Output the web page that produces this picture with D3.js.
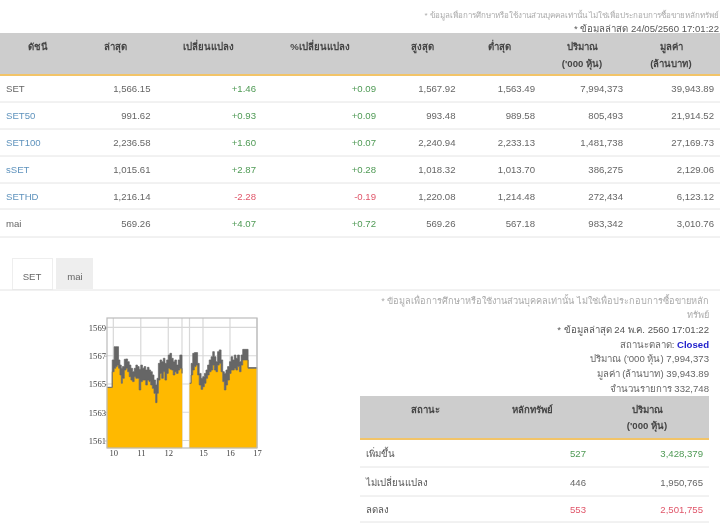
<!DOCTYPE html>
<html>
<head>
<meta charset="utf-8">
<script src="https://cdn.jsdelivr.net/npm/d3@7"></script>
<style>
  body { margin: 0; background: #fff; }
  svg { display: block; filter: blur(0.55px); font-family: "Liberation Sans", "Noto Sans", sans-serif; }
</style>
</head>
<body>
<div id="chart"></div>
<script>
// index table
const indexNames = ["SET", "SET50", "SET100", "sSET", "SETHD", "mai"];
const lastValues = ["1,566.15", "991.62", "2,236.58", "1,015.61", "1,216.14", "569.26"];
const changes = ["+1.46", "+0.93", "+1.60", "+2.87", "-2.28", "+4.07"];
const pctChanges = ["+0.09", "+0.09", "+0.07", "+0.28", "-0.19", "+0.72"];
const highs = ["1,567.92", "993.48", "2,240.94", "1,018.32", "1,220.08", "569.26"];
const lows = ["1,563.49", "989.58", "2,233.13", "1,013.70", "1,214.48", "567.18"];
const volumes = ["7,994,373", "805,493", "1,481,738", "386,275", "272,434", "983,342"];
const turnovers = ["39,943.89", "21,914.52", "27,169.73", "2,129.06", "6,123.12", "3,010.76"];
const indexHeaders = ["ดัชนี", "ล่าสุด", "เปลี่ยนแปลง", "%เปลี่ยนแปลง", "สูงสุด", "ต่ำสุด", ["ปริมาณ", "('000 หุ้น)"], ["มูลค่า", "(ล้านบาท)"]];

// market breadth table
const breadthHeaders = ["สถานะ", "หลักทรัพย์", ["ปริมาณ", "('000 หุ้น)"]];
const breadthNames = ["เพิ่มขึ้น", "ไม่เปลี่ยนแปลง", "ลดลง"];
const breadthCounts = ["527", "446", "553"];
const breadthVolumes = ["3,428,379", "1,950,765", "2,501,755"];

// intraday index, hours of the day, morning and afternoon sessions
const amHours = [9.77, 9.93, 9.96, 10.03, 10.09, 10.14, 10.19, 10.24, 10.29, 10.33, 10.40, 10.46, 10.52, 10.58, 10.64, 10.70, 10.76, 10.82, 10.88, 10.94, 11.00, 11.06, 11.12, 11.18, 11.24, 11.30, 11.36, 11.42, 11.48, 11.54, 11.59, 11.64, 11.70, 11.76, 11.82, 11.88, 11.94, 12.00, 12.06, 12.12, 12.18, 12.24, 12.30, 12.36, 12.42, 12.50];
const amHigh = [1564.76, 1564.76, 1566.70, 1567.64, 1567.64, 1567.64, 1566.70, 1566.34, 1566.11, 1566.23, 1566.75, 1566.77, 1566.58, 1566.34, 1566.11, 1565.87, 1566.11, 1566.34, 1566.23, 1566.04, 1566.34, 1566.11, 1566.23, 1565.99, 1566.18, 1565.99, 1565.87, 1565.64, 1565.28, 1564.93, 1565.40, 1566.46, 1566.70, 1566.58, 1566.82, 1566.46, 1566.70, 1567.05, 1567.17, 1566.82, 1566.58, 1566.70, 1566.34, 1566.70, 1567.05, 1567.05];
const amLow = [1564.76, 1564.76, 1565.87, 1566.11, 1566.23, 1566.34, 1566.11, 1565.64, 1565.05, 1565.40, 1565.99, 1566.11, 1565.87, 1565.52, 1565.28, 1565.17, 1565.52, 1565.40, 1565.40, 1564.58, 1565.17, 1565.28, 1565.28, 1564.93, 1565.28, 1565.17, 1564.93, 1564.69, 1564.34, 1563.68, 1564.34, 1565.28, 1565.75, 1565.40, 1565.87, 1565.28, 1565.75, 1566.11, 1566.04, 1565.99, 1565.64, 1565.87, 1565.75, 1565.99, 1566.11, 1565.75];
const pmHours = [14.51, 14.56, 14.62, 14.68, 14.74, 14.80, 14.86, 14.93, 14.99, 15.05, 15.11, 15.17, 15.23, 15.30, 15.36, 15.42, 15.48, 15.54, 15.60, 15.67, 15.73, 15.79, 15.85, 15.91, 15.98, 16.04, 16.10, 16.16, 16.22, 16.28, 16.35, 16.41, 16.47, 16.63, 16.67, 17.00];
const pmHigh = [1565.05, 1566.46, 1567.17, 1567.22, 1567.22, 1566.46, 1565.75, 1565.40, 1565.52, 1565.75, 1565.99, 1566.34, 1566.70, 1566.93, 1567.29, 1566.93, 1566.58, 1567.29, 1567.41, 1566.70, 1565.87, 1565.75, 1565.99, 1566.23, 1566.58, 1566.93, 1566.70, 1567.05, 1566.82, 1567.05, 1566.58, 1567.05, 1567.45, 1567.45, 1566.16, 1566.16];
const pmLow = [1565.05, 1565.64, 1565.99, 1566.23, 1566.34, 1565.64, 1564.93, 1564.62, 1564.81, 1565.05, 1565.40, 1565.64, 1565.87, 1565.99, 1566.34, 1565.99, 1565.87, 1566.34, 1566.46, 1565.87, 1565.17, 1564.58, 1564.93, 1565.28, 1565.75, 1565.99, 1565.99, 1566.11, 1565.99, 1566.23, 1565.87, 1566.34, 1566.70, 1566.70, 1566.11, 1566.11];
const hourTicks = [10, 11, 12, 15, 16, 17];
const gapEdges = [12.5, 14.5];
const priceTicks = [1561, 1563, 1565, 1567, 1569];

const textColor = "#666";
const green = "#4f9a55";
const red = "#e0566a";
const linkBlue = "#5f93bd";

const svg = d3.select("#chart").append("svg").attr("width", 728).attr("height", 524);

function label(x, y, str, anchor, color, size, weight) {
  return svg.append("text").attr("x", x).attr("y", y)
    .attr("text-anchor", anchor || "start")
    .attr("fill", color || textColor)
    .attr("font-size", size || 9.6)
    .attr("font-weight", weight || "normal")
    .text(str);
}

function signColor(s) {
  return s[0] == "-" ? red : green;
}

function tableHeader(x0, x1, y0, y1, centers, headers, y1Line, y2Line) {
  svg.append("rect").attr("x", x0).attr("y", y0).attr("width", x1 - x0).attr("height", y1 - y0).attr("fill", "#cdcdcd");
  svg.append("rect").attr("x", x0).attr("y", y1).attr("width", x1 - x0).attr("height", 2).attr("fill", "#f2c468");
  headers.forEach((h, i) => {
    if (Array.isArray(h)) {
      label(centers[i], y1Line, h[0], "middle", "#444", 9.6, "bold");
      label(centers[i], y2Line, h[1], "middle", "#444", 9.6, "bold");
    } else {
      label(centers[i], y1Line, h, "middle", "#444", 9.6, "bold");
    }
  });
}

function rule(x0, x1, y) {
  svg.append("line").attr("x1", x0).attr("x2", x1).attr("y1", y).attr("y2", y).attr("stroke", "#e4e4e4");
}

// top notes
label(719, 18, "* ข้อมูลเพื่อการศึกษาหรือใช้งานส่วนบุคคลเท่านั้น ไม่ใช่เพื่อประกอบการซื้อขายหลักทรัพย์", "end", "#aaa", 8);
label(719, 32, "* ข้อมูลล่าสุด 24/05/2560 17:01:22", "end", "#555", 9.6);

// index table
tableHeader(0, 720, 33, 74, [38, 115, 208, 320, 422, 499, 582, 671], indexHeaders, 50, 67);
const rowText = [92, 119, 146, 173, 200, 227];
const rowRules = [102, 129, 156, 183, 209, 237];
const numberCols = [
  [lastValues, 150.5], [changes, 256], [pctChanges, 376], [highs, 455.5],
  [lows, 535], [volumes, 623], [turnovers, 714]
];
indexNames.forEach((name, i) => {
  const linked = name != "SET" && name != "mai";
  label(6, rowText[i], name, "start", linked ? linkBlue : textColor);
  numberCols.forEach((col, c) => {
    const color = c == 1 || c == 2 ? signColor(col[0][i]) : textColor;
    label(col[1], rowText[i], col[0][i], "end", color);
  });
  rule(0, 720, rowRules[i]);
});

// tabs
svg.append("rect").attr("x", 12.5).attr("y", 258.5).attr("width", 40).attr("height", 31).attr("fill", "#fff").attr("stroke", "#eee");
svg.append("rect").attr("x", 56).attr("y", 258).attr("width", 37).attr("height", 31).attr("fill", "#eee");
rule(0, 720, 290);
label(32, 280, "SET", "middle", textColor, 9.6);
label(75, 280, "mai", "middle", textColor, 9.6);

// intraday chart
const plot = { left: 107, right: 257, top: 318, bottom: 448 };
const x = d3.scaleLinear().domain([9.77, 12.5, 14.5, 17]).range([107, 182, 189.5, 257]);
const y = d3.scaleLinear().domain([1560.47, 1569.67]).range([plot.bottom, plot.top]);

const g = svg.append("g");
g.selectAll("line.h").data(priceTicks).join("line").attr("class", "h")
  .attr("x1", plot.left).attr("x2", plot.right).attr("y1", d => y(d)).attr("y2", d => y(d))
  .attr("stroke", "#d8d8d8").attr("stroke-width", 1.2);
g.selectAll("line.v").data(hourTicks.concat(gapEdges)).join("line").attr("class", "v")
  .attr("y1", plot.top).attr("y2", plot.bottom).attr("x1", d => x(d)).attr("x2", d => x(d))
  .attr("stroke", "#d8d8d8").attr("stroke-width", 1.2);

const goldArea = d3.area().curve(d3.curveStepAfter).x(d => x(d.hour)).y0(plot.bottom).y1(d => y(d.low));
const bandArea = d3.area().curve(d3.curveStepAfter).x(d => x(d.hour)).y0(d => y(d.low)).y1(d => y(d.high));
const sessions = [
  amHours.map((h, i) => ({ hour: h, high: amHigh[i], low: amLow[i] })),
  pmHours.map((h, i) => ({ hour: h, high: pmHigh[i], low: pmLow[i] }))
];
sessions.forEach(s => {
  g.append("path").attr("d", goldArea(s)).attr("fill", "#ffb900").attr("stroke", "#ffb900").attr("stroke-width", 0.4);
  g.append("path").attr("d", bandArea(s)).attr("fill", "#666").attr("stroke", "#666").attr("stroke-width", 0.7);
});
g.append("rect").attr("x", plot.left).attr("y", plot.top)
  .attr("width", plot.right - plot.left).attr("height", plot.bottom - plot.top)
  .attr("fill", "none").attr("stroke", "#bbb").attr("stroke-width", 1.2);

const yAxis = g.append("g").attr("transform", `translate(${plot.left},0)`)
  .call(d3.axisLeft(y).tickValues(priceTicks).tickFormat(d3.format("d")).tickSize(2).tickPadding(-1));
const xAxis = g.append("g").attr("transform", `translate(0,${plot.bottom})`)
  .call(d3.axisBottom(x).tickValues(hourTicks).tickFormat(d3.format("d")).tickSize(0).tickPadding(2));
[yAxis, xAxis].forEach(a => {
  a.select(".domain").remove();
  a.selectAll("line").attr("stroke", "#bbb");
  a.selectAll("text").attr("font-family", "Liberation Serif").attr("font-size", 8.6).attr("fill", "#444");
});

// right notes
label(709, 304, "* ข้อมูลเพื่อการศึกษาหรือใช้งานส่วนบุคคลเท่านั้น ไม่ใช่เพื่อประกอบการซื้อขายหลัก", "end", "#aaa", 9.2);
label(709, 318, "ทรัพย์", "end", "#aaa", 9.2);
label(709, 333, "* ข้อมูลล่าสุด 24 พ.ค. 2560 17:01:22", "end", "#555", 9.6);
const status = label(709, 348, "สถานะตลาด: ", "end", "#666", 9.6);
status.append("tspan").attr("fill", "#2222cc").attr("font-weight", "bold").text("Closed");
label(709, 362, "ปริมาณ ('000 หุ้น) 7,994,373", "end");
label(709, 377, "มูลค่า (ล้านบาท) 39,943.89", "end");
label(709, 392, "จำนวนรายการ 332,748", "end");

// breadth table
tableHeader(360, 709, 396, 438, [425, 532, 647], breadthHeaders, 413, 429);
const breadthText = [457, 486, 513];
const breadthRules = [467, 496, 522];
breadthNames.forEach((name, i) => {
  const color = i == 0 ? green : i == 2 ? red : textColor;
  label(366, breadthText[i], name, "start", "#555");
  label(586, breadthText[i], breadthCounts[i], "end", color);
  label(703, breadthText[i], breadthVolumes[i], "end", color);
  rule(360, 709, breadthRules[i]);
});
</script>
</body>
</html>
